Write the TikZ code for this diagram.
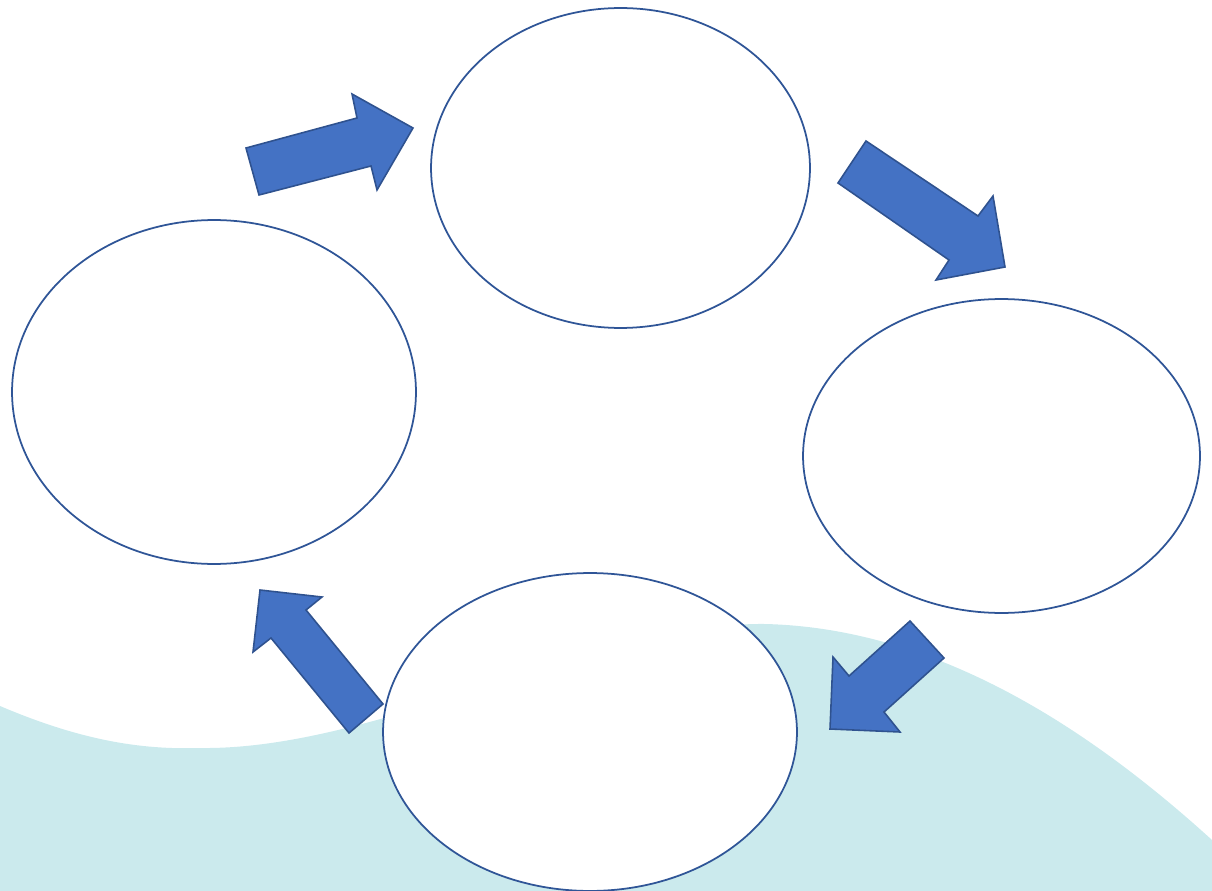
\documentclass[tikz,border=0pt]{standalone}
\usepackage{amsmath}
\usepackage{tikz}
\usetikzlibrary{shapes.geometric}
\definecolor{ttqqcc}{rgb}{0.267,0.447,0.769}
\definecolor{qqttcc}{rgb}{0.184,0.322,0.561}
\definecolor{zzqqdd}{rgb}{0.184,0.333,0.592}
\definecolor{ccwwee}{rgb}{0.796,0.918,0.929}
\tikzset{stage/.style={ellipse,draw=zzqqdd,line width=1pt,fill=white,inner sep=0pt},
flow/.style={fill=ttqqcc,draw=qqttcc,line width=0.9pt,line join=miter}}

\begin{document}
\begin{tikzpicture}[line cap=round,line join=round,x=0.02cm,y=-0.02cm]
\useasboundingbox (0,0) rectangle (1212,891);
\fill[color=ccwwee] (0,706) .. controls (80,740) and (140,750) .. (201,748) .. controls (380,750) and (600,622) .. (765,624) .. controls (930,628) and (1080,720) .. (1212,840) -- (1212,891) -- (0,891) -- cycle;
\node[stage,minimum width=7.58cm,minimum height=6.4cm] (topstage) at (620.5,168) {};
\node[stage,minimum width=8.08cm,minimum height=6.88cm] (leftstage) at (214,392) {};
\node[stage,minimum width=7.94cm,minimum height=6.28cm] (rightstage) at (1001.5,456) {};
\node[stage,minimum width=8.28cm,minimum height=6.36cm] (bottomstage) at (590,732) {};
\draw[flow] (246,148) -- (357,118) -- (352,94) -- (413,128) -- (377,190) -- (371,166) -- (259,195) -- cycle;
\draw[flow] (866,141) -- (978,216) -- (993,196) -- (1005,267) -- (936,280) -- (949,260) -- (838,183) -- cycle;
\draw[flow] (910,621) -- (944,658) -- (884,712) -- (900,732) -- (830,729) -- (833,657) -- (849,676) -- cycle;
\draw[flow] (383,704) -- (349,733) -- (271,638) -- (253,652) -- (260,590) -- (322,597) -- (306,610) -- cycle;
\end{tikzpicture}
\end{document}
